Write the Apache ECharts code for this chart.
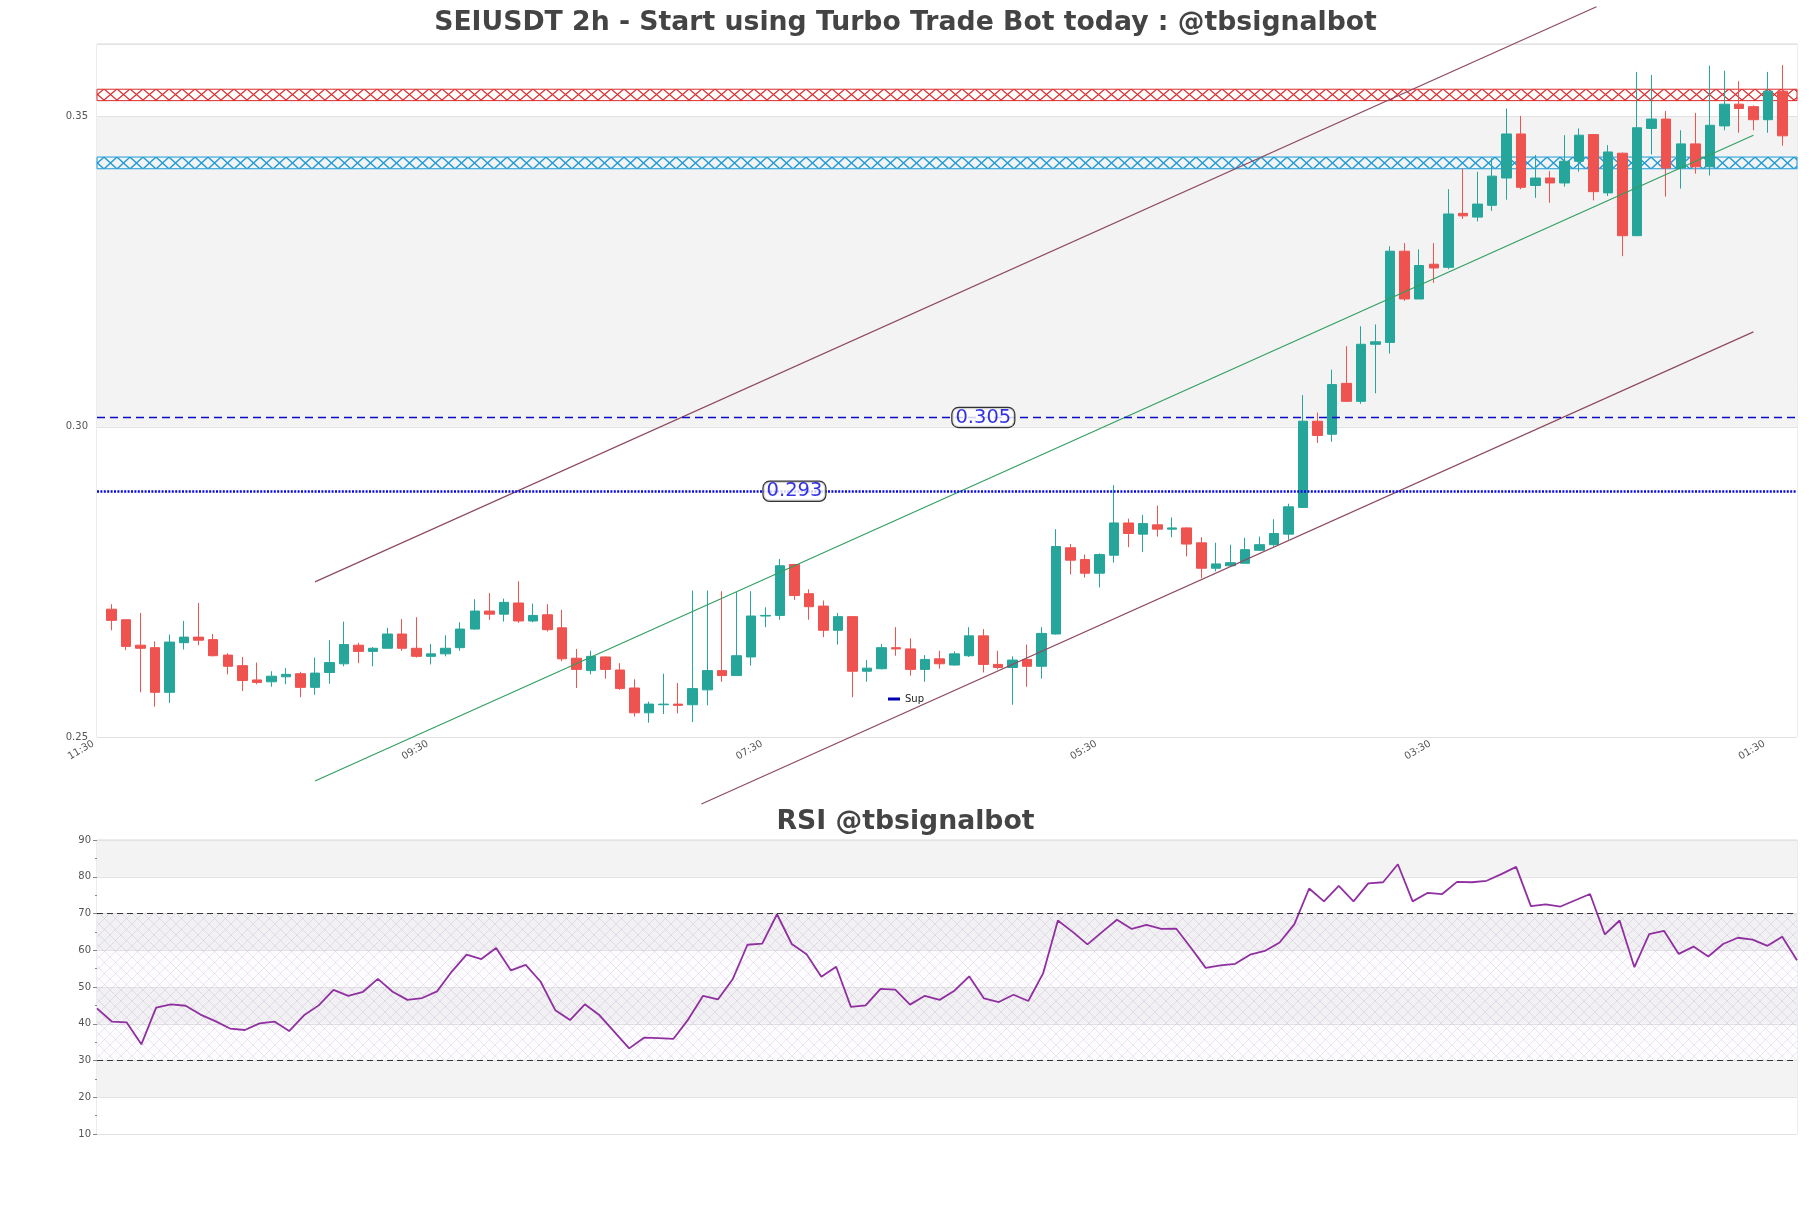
<!DOCTYPE html>
<html><head><meta charset="utf-8">
<script src="https://cdn.jsdelivr.net/npm/echarts@6/dist/echarts.min.js"></script>
<style>html,body{margin:0;padding:0;background:#fff}#main{width:1811px;height:1208px}</style>
</head><body><div id="main"></div>
<script>
// ---------- data ----------
const xTickLabels = ['11:30','09:30','07:30','05:30','03:30','01:30'];
const opens = [.2706,.2689,.2648,.2644,.2572,.2652,.2661,.2657,.2632,.2615,
.2592,.2589,.2597,.2602,.2580,.2604,.2618,.2648,.2638,.2643,
.2666,.2643,.2630,.2634,.2644,.2674,.2703,.2698,.2716,.2687,
.2697,.2676,.2627,.2607,.2629,.2608,.2579,.2539,.2552,.2553,
.2552,.2576,.2607,.2599,.2629,.2695,.2696,.2778,.2731,.2711,
.2672,.2694,.2606,.2610,.2644,.2642,.2609,.2626,.2616,.2631,
.2663,.2617,.2612,.2625,.2614,.2666,.2805,.2786,.2764,.2793,
.2845,.2827,.2842,.2835,.2837,.2813,.2772,.2776,.2780,.2801,
.2810,.2827,.2870,.3009,.2988,.3070,.3041,.3133,.3136,.3283,
.3206,.3262,.3257,.3344,.3338,.3357,.3401,.3472,.3389,.3401,
.3393,.3428,.3471,.3377,.3441,.3308,.3481,.3496,.3417,.3456,
.3419,.3485,.3520,.3516,.3495,.3541];
const closes = [.2688,.2646,.2643,.2572,.2653,.2661,.2656,.2631,.2614,.2591,
.2588,.2598,.2601,.2580,.2603,.2620,.2649,.2638,.2643,.2666,
.2643,.2630,.2634,.2643,.2674,.2703,.2698,.2717,.2687,.2696,
.2673,.2626,.2609,.2630,.2609,.2578,.2539,.2553,.2553,.2551,
.2578,.2607,.2599,.2631,.2695,.2696,.2776,.2728,.2710,.2672,
.2694,.2606,.2611,.2644,.2642,.2609,.2625,.2618,.2634,.2663,
.2617,.2612,.2624,.2614,.2667,.2807,.2785,.2764,.2794,.2845,
.2828,.2844,.2835,.2837,.2811,.2772,.2779,.2781,.2802,.2810,
.2828,.2871,.3009,.2986,.3068,.3041,.3133,.3137,.3283,.3206,
.3260,.3256,.3343,.3340,.3359,.3404,.3472,.3386,.3401,.3393,
.3428,.3470,.3379,.3443,.3308,.3482,.3496,.3417,.3456,.3419,
.3486,.3520,.3513,.3495,.3541,.3469];
const lows = [.2672,.2640,.2572,.2549,.2555,.2641,.2648,.2630,.2601,.2574,
.2585,.2581,.2585,.2564,.2568,.2586,.2614,.2619,.2614,.2643,
.2639,.2628,.2617,.2630,.2639,.2673,.2689,.2686,.2684,.2685,
.2670,.2622,.2579,.2601,.2594,.2576,.2533,.2523,.2537,.2538,
.2524,.2551,.2589,.2599,.2615,.2677,.2689,.2721,.2689,.2661,
.2649,.2564,.2589,.2609,.2631,.2599,.2589,.2610,.2615,.2629,
.2604,.2609,.2552,.2581,.2594,.2665,.2762,.2757,.2741,.2781,
.2806,.2798,.2823,.2822,.2791,.2756,.2767,.2775,.2780,.2800,
.2807,.2818,.2869,.2974,.2976,.3040,.3037,.3054,.3118,.3203,
.3206,.3232,.3254,.3335,.3331,.3348,.3366,.3383,.3369,.3361,
.3387,.3411,.3365,.3372,.3275,.3308,.3439,.3371,.3384,.3408,
.3405,.3478,.3474,.3478,.3474,.3453];
const highs = [.2714,.2690,.2700,.2654,.2665,.2687,.2716,.2666,.2635,.2629,
.2620,.2606,.2611,.2605,.2628,.2656,.2686,.2652,.2645,.2676,
.2690,.2693,.2650,.2664,.2685,.2722,.2732,.2723,.2751,.2715,
.2714,.2705,.2642,.2639,.2630,.2619,.2593,.2557,.2602,.2587,
.2736,.2736,.2735,.2734,.2735,.2709,.2787,.2779,.2738,.2720,
.2700,.2695,.2624,.2650,.2677,.2659,.2632,.2639,.2638,.2677,
.2674,.2639,.2630,.2649,.2677,.2835,.2811,.2794,.2796,.2906,
.2852,.2858,.2873,.2854,.2838,.2822,.2813,.2810,.2821,.2823,
.2851,.2876,.3051,.3023,.3092,.3130,.3162,.3165,.3291,.3296,
.3286,.3296,.3383,.3416,.3411,.3433,.3513,.3501,.3438,.3412,
.3470,.3481,.3472,.3454,.3442,.3572,.3567,.3509,.3478,.3506,
.3582,.3574,.3557,.3518,.3572,.3583];
const rsiValues = [44.2,40.6,40.4,34.4,44.4,45.3,44.9,42.5,40.7,38.7,
38.3,40.1,40.6,38.0,42.3,45.0,49.2,47.6,48.7,52.2,
48.7,46.5,47.0,48.8,54.2,58.8,57.6,60.6,54.5,56.0,
51.5,43.7,41.0,45.3,42.3,37.8,33.3,36.2,36.1,35.9,
41.2,47.6,46.6,52.1,61.5,61.8,69.8,61.7,58.9,52.8,
55.5,44.6,45.0,49.5,49.3,45.2,47.6,46.5,49.0,52.9,
46.9,45.9,47.9,46.2,53.7,68.1,65.0,61.6,65.0,68.3,
65.8,66.9,65.8,65.9,60.7,55.2,55.9,56.3,58.8,59.8,
62.1,67.1,76.8,73.3,77.5,73.3,78.2,78.5,83.4,73.3,
75.6,75.3,78.6,78.5,78.9,80.7,82.7,72.0,72.5,71.9,
73.6,75.3,64.3,68.1,55.4,64.4,65.3,59.0,61.0,58.3,
61.7,63.4,62.9,61.2,63.7,57.3];
// trend lines [x(candle index+1), price]
const upperChannel = [[15.0, 0.2750], [103.2, 0.3677]];
const midLine = [[15.0, 0.2429], [114.0, 0.3470]];
const lowerChannel = [[41.6, 0.2392], [114.0, 0.3153]];
// horizontal levels
const dashedLevel = 0.3015, dashedLevelText = '0.305', dashedLabelX = 61;
const supLevel = 0.2896, supLevelText = '0.293', supLabelX = 48;
const redZone = [0.35257, 0.35441];
const blueZone = [0.34159, 0.34348];
const rsiLevels = [70, 30];

// ---------- chart ----------
const FONT = 'DejaVu Sans';
const chart = echarts.init(document.getElementById('main'), null, {renderer: 'canvas'});
const candles = opens.map((o, i) => [i + 1, o, closes[i], lows[i], highs[i]]);
const rsiData = rsiValues.map((v, i) => [i, v]);

function hatch(color, w, h, lw, bg) {
  const c = document.createElement('canvas');
  c.width = w; c.height = h;
  const g = c.getContext('2d');
  if (bg) { g.fillStyle = bg; g.fillRect(0, 0, w, h); }
  g.strokeStyle = color; g.lineWidth = lw;
  g.beginPath();
  g.moveTo(0, 0); g.lineTo(w, h);
  g.moveTo(w, 0); g.lineTo(0, h);
  g.stroke();
  return c;
}

function build(p) {
  const redFill = p ? {image: p.red, repeat: 'repeat', x: 0, y: p.redTop} : 'rgba(0,0,0,0)';
  const blueFill = p ? {image: p.blue, repeat: 'repeat', x: 0, y: p.blueTop} : 'rgba(0,0,0,0)';
  const rsiFill = {image: hatch('rgba(150,110,175,0.22)', 11, 11, 0.8, 'rgba(225,205,235,0.05)'), repeat: 'repeat'};
  const lineStyleChan = {color: '#8e4a60', width: 1.2};
  return {
    animation: false,
    backgroundColor: '#ffffff',
    textStyle: {fontFamily: FONT},
    title: [
      {text: 'SEIUSDT 2h - Start using Turbo Trade Bot today : @tbsignalbot', left: 'center', top: 5,
       textStyle: {fontFamily: FONT, fontSize: 26.7, fontWeight: 'bold', color: '#444444'}},
      {text: 'RSI @tbsignalbot', left: 'center', top: 804,
       textStyle: {fontFamily: FONT, fontSize: 26.7, fontWeight: 'bold', color: '#444444'}}
    ],
    legend: {
      left: 883, top: 689, itemWidth: 12, itemHeight: 3, icon: 'rect',
      data: [{name: 'Sup', itemStyle: {color: '#0000b0'}}],
      textStyle: {fontFamily: FONT, fontSize: 10, color: '#222'}
    },
    grid: [
      {left: 97, right: 14, top: 44, height: 693, show: true, borderColor: '#d9d9d9', borderWidth: 1},
      {left: 97, right: 14, top: 840, height: 294, show: true, borderColor: '#d9d9d9', borderWidth: 1}
    ],
    xAxis: [
      {type: 'value', gridIndex: 0, min: 0, max: 117, interval: 23,
       axisLine: {show: false}, axisTick: {show: false}, splitLine: {show: false},
       axisLabel: {rotate: 30, fontSize: 10, color: '#555', margin: 4, fontFamily: FONT,
         showMaxLabel: false, padding: [0, 4, 0, 0],
         formatter: v => (v % 23 === 0 && v / 23 < xTickLabels.length) ? xTickLabels[v / 23] : ''}},
      {type: 'value', gridIndex: 1, min: 0, max: 115,
       axisLine: {show: false}, axisTick: {show: false}, splitLine: {show: false}, axisLabel: {show: false}}
    ],
    yAxis: [
      {type: 'value', gridIndex: 0, min: 0.25, max: 0.3617, interval: 0.05,
       axisLine: {show: false}, axisTick: {show: false},
       axisLabel: {fontSize: 10, color: '#555', margin: 9, fontFamily: FONT, showMaxLabel: false,
         formatter: v => v.toFixed(2)},
       splitLine: {show: true, lineStyle: {color: '#e2e2e2'}},
       splitArea: {show: true, areaStyle: {color: ['#ffffff', '#f3f3f3']}}},
      {type: 'value', gridIndex: 1, min: 10, max: 90, interval: 10,
       axisLine: {show: false},
       axisTick: {show: true, length: 4, lineStyle: {color: '#888'}},
       minorTick: {show: true, splitNumber: 2, length: 2, lineStyle: {color: '#888'}},
       axisLabel: {fontSize: 10, color: '#555', margin: 6, fontFamily: FONT},
       splitLine: {show: true, lineStyle: {color: '#e2e2e2'}},
       splitArea: {show: true, areaStyle: {color: ['#ffffff', '#f3f3f3']}}}
    ],
    series: [
      {name: 'zones', type: 'line', xAxisIndex: 0, yAxisIndex: 0, data: [], z: 1, silent: true,
       markArea: {silent: true, data: [
         [{yAxis: redZone[0], itemStyle: {color: redFill, borderColor: '#dd2a2a', borderWidth: 1}}, {yAxis: redZone[1]}],
         [{yAxis: blueZone[0], itemStyle: {color: blueFill, borderColor: '#1c9ad6', borderWidth: 1}}, {yAxis: blueZone[1]}]
       ]}},
      {name: 'levels', type: 'line', xAxisIndex: 0, yAxisIndex: 0, data: [], z: 2, silent: true,
       markLine: {silent: true, precision: 6, symbol: ['none', 'none'], label: {show: false},
         lineStyle: {color: '#0a0ac8', width: 1.3, type: [8, 5]}, data: [{yAxis: dashedLevel}]}},
      {name: 'Sup', type: 'line', xAxisIndex: 0, yAxisIndex: 0, data: [], z: 2, silent: true,
       itemStyle: {color: '#0000b0'},
       markLine: {silent: true, precision: 6, symbol: ['none', 'none'], label: {show: false},
         lineStyle: {color: '#0a0ae0', width: 2.6, type: [2, 1.4]}, data: [{yAxis: supLevel}]}},
      {name: 'price', type: 'candlestick', xAxisIndex: 0, yAxisIndex: 0, data: candles, barWidth: 10, z: 3,
       itemStyle: {color: '#26a69a', color0: '#ef5350', borderColor: '#26a69a', borderColor0: '#ef5350', borderWidth: 1}},
      {name: 'upper', type: 'line', xAxisIndex: 0, yAxisIndex: 0, data: upperChannel, clip: false, symbol: 'none', z: 4,
       lineStyle: lineStyleChan, silent: true},
      {name: 'mid', type: 'line', xAxisIndex: 0, yAxisIndex: 0, data: midLine, clip: false, symbol: 'none', z: 4,
       lineStyle: {color: '#2f9e60', width: 1.1}, silent: true},
      {name: 'lower', type: 'line', xAxisIndex: 0, yAxisIndex: 0, data: lowerChannel, clip: false, symbol: 'none', z: 4,
       lineStyle: lineStyleChan, silent: true},
      {name: 'lvlLabels', type: 'scatter', xAxisIndex: 0, yAxisIndex: 0, symbolSize: 1, z: 6, silent: true,
       itemStyle: {color: 'rgba(0,0,0,0)'},
       data: [
         {value: [dashedLabelX, dashedLevel], label: {formatter: dashedLevelText}},
         {value: [supLabelX, supLevel], label: {formatter: supLevelText}}
       ],
       label: {show: true, position: 'inside', fontFamily: FONT, fontSize: 19.5, color: '#0000dd',
         backgroundColor: '#ffffff', borderColor: '#000', borderWidth: 1.2, borderRadius: 6, padding: [0, 3, -1, 3]}},
      {name: 'rsiZone', type: 'line', xAxisIndex: 1, yAxisIndex: 1, data: [], z: 1, silent: true,
       markArea: {silent: true, itemStyle: {color: rsiFill}, data: [[{yAxis: rsiLevels[1]}, {yAxis: rsiLevels[0]}]]}},
      {name: 'RSI', type: 'line', xAxisIndex: 1, yAxisIndex: 1, data: rsiData, symbol: 'none', z: 4,
       lineStyle: {color: '#9030a0', width: 1.8}, silent: true,
       markLine: {silent: true, symbol: ['none', 'none'], label: {show: false},
         lineStyle: {color: '#333', width: 1.2, type: [6, 4]},
         data: rsiLevels.map(v => ({yAxis: v}))}}
    ]
  };
}

chart.setOption(build(null));
const py = v => chart.convertToPixel({gridIndex: 0}, [0, v])[1];
const rTop = py(redZone[1]), rBot = py(redZone[0]);
const bTop = py(blueZone[1]), bBot = py(blueZone[0]);
const pats = {
  red: hatch('#dd2a2a', 13, Math.max(2, Math.round(rBot - rTop)), 1.3),
  redTop: Math.round(rTop),
  blue: hatch('#1c9ad6', 13, Math.max(2, Math.round(bBot - bTop)), 1.3),
  blueTop: Math.round(bTop)
};
chart.setOption(build(pats), true);
</script>
</body></html>
